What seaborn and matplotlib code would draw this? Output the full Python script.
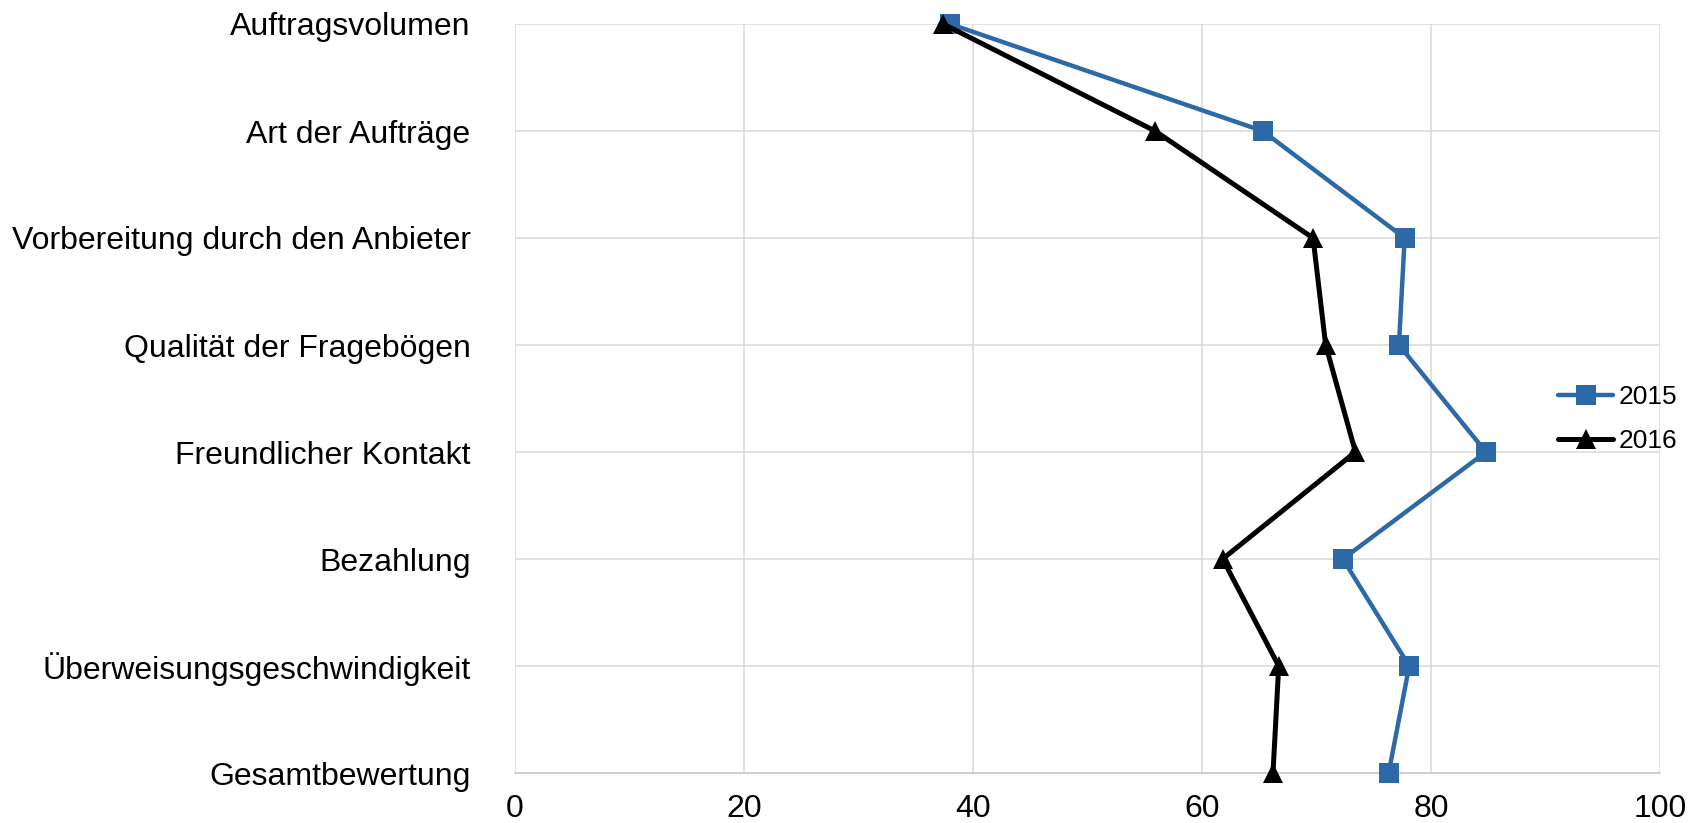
import matplotlib
matplotlib.use("Agg")
import matplotlib.pyplot as plt
import numpy as np
import pandas as pd
import seaborn as sns

categories = ["Auftragsvolumen", "Art der Aufträge", "Vorbereitung durch den Anbieter",
              "Qualität der Fragebögen", "Freundlicher Kontakt", "Bezahlung",
              "Überweisungsgeschwindigkeit", "Gesamtbewertung"]
values_2015 = [38.0, 65.3, 77.7, 77.2, 84.8, 72.3, 78.1, 76.3]
values_2016 = [37.4, 55.9, 69.7, 70.8, 73.4, 61.8, 66.7, 66.2]
x_ticks = [0, 20, 40, 60, 80, 100]

pos = np.arange(len(categories))
df = pd.concat([
    pd.DataFrame({"Kategorie": categories, "pos": pos, "Wert": values_2015, "Jahr": "2015"}),
    pd.DataFrame({"Kategorie": categories, "pos": pos, "Wert": values_2016, "Jahr": "2016"}),
])

sns.set_style("white")
plt.rcParams["font.family"] = ["Liberation Sans", "DejaVu Sans"]
plt.rcParams["text.color"] = "black"
plt.rcParams["xtick.color"] = "black"
plt.rcParams["ytick.color"] = "black"

fig = plt.figure(figsize=(16.91, 8.23), dpi=100)
ax = fig.add_axes([515 / 1691, 1 - 773 / 823, (1660 - 515) / 1691, (773 - 24) / 823])

styles = {"2015": dict(color="#2E69A7", marker="s", lw=3.2),
          "2016": dict(color="black", marker="^", lw=3.6)}
for year, st in styles.items():
    sns.lineplot(data=df[df["Jahr"] == year], x="Wert", y="pos", orient="y", sort=False,
                 estimator=None, color=st["color"], marker=st["marker"], markersize=14.5,
                 markeredgewidth=0, linewidth=st["lw"], label=year, ax=ax, clip_on=False,
                 zorder=3)

ax.set_xlim(0, 100)
ax.set_ylim(len(categories) - 1, 0)
ax.set_xticks(x_ticks)
ax.set_yticks(pos)
ax.set_yticklabels(categories)
ax.set_xlabel("")
ax.set_ylabel("")
ax.grid(True, color="#d9d9d9", linewidth=1.1)
ax.set_axisbelow(True)
for s in ["top", "right", "left"]:
    ax.spines[s].set_visible(False)
ax.spines["bottom"].set_color("#c8c8c8")
ax.spines["bottom"].set_linewidth(1.2)
ax.tick_params(axis="y", length=0, pad=32, labelsize=23)
ax.tick_params(axis="x", length=0, pad=15, labelsize=23)

ax.legend_.remove()
handles, labels = ax.get_legend_handles_labels()
fig.legend(handles, labels, loc="center left", bbox_to_anchor=(1558 / 1691, 1 - 419 / 823),
           frameon=False, fontsize=19, handlelength=2.1, handletextpad=0.2,
           borderpad=0, borderaxespad=0, labelspacing=0.75)

fig.savefig("out.png", dpi=100)
